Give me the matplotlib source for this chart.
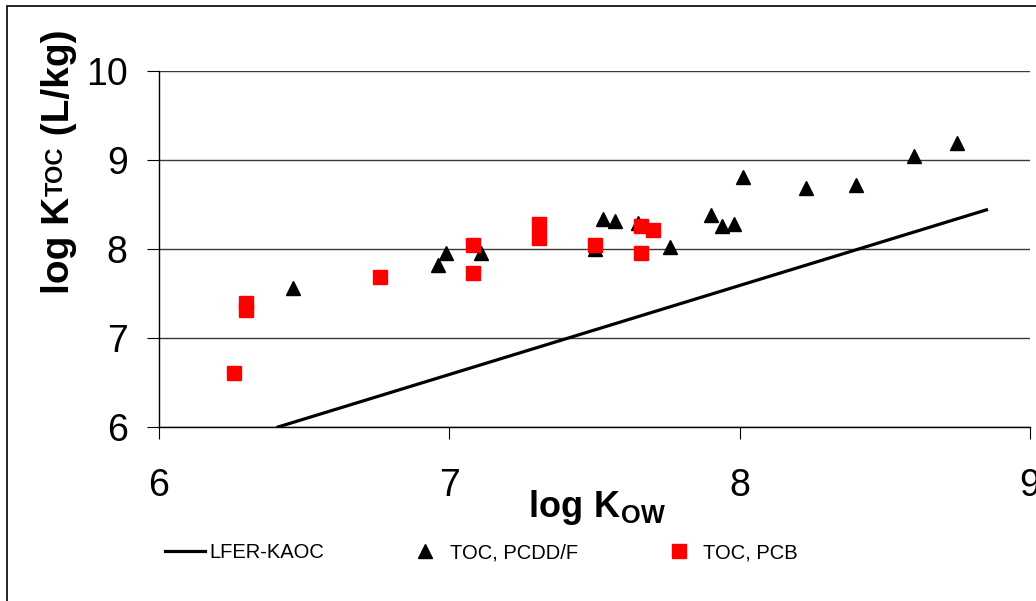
import matplotlib
matplotlib.use('Agg')
import matplotlib.pyplot as plt
from matplotlib.patches import Rectangle

plt.rcParams['font.family'] = ['Liberation Sans', 'DejaVu Sans']
plt.rcParams['mathtext.fontset'] = 'custom'
plt.rcParams['mathtext.rm'] = 'Liberation Sans'
plt.rcParams['mathtext.bf'] = 'Liberation Sans:bold'

# LFER prediction line
lfer_x = [6.41, 8.85]
lfer_y = [6.00, 8.44]

# measured TOC partitioning, PCDD/Fs
pcdd_x = [6.46, 6.96, 6.99, 7.11, 7.50, 7.53, 7.57, 7.65, 7.76, 7.90, 7.94, 7.98, 8.01, 8.23, 8.40, 8.60, 8.75]
pcdd_y = [7.56, 7.82, 7.95, 7.95, 8.00, 8.34, 8.31, 8.29, 8.02, 8.38, 8.26, 8.28, 8.81, 8.69, 8.72, 9.05, 9.19]

# measured TOC partitioning, PCBs
pcb_x = [6.26, 6.30, 6.30, 6.76, 7.08, 7.08, 7.31, 7.31, 7.50, 7.66, 7.70, 7.66]
pcb_y = [6.61, 7.39, 7.32, 7.68, 8.04, 7.73, 8.28, 8.12, 8.05, 8.26, 8.21, 7.96]

xticks = [6, 7, 8, 9]
yticks = [6, 7, 8, 9, 10]

W, H = 1036, 601
fig = plt.figure(figsize=(W / 100, H / 100), dpi=100)
ax = fig.add_axes([159 / W, 1 - 427 / H, (1030 - 159) / W, (427 - 71) / H])

ax.plot(lfer_x, lfer_y, color='black', lw=2.3, label='LFER-KAOC', zorder=3)
ax.plot(pcdd_x, pcdd_y, ls='none', marker='^', ms=10.5, color='black', label='TOC, PCDD/F', zorder=4)
ax.plot(pcb_x, pcb_y, ls='none', marker='s', ms=9.5, color='#ff0000', label='TOC, PCB', zorder=5)

ax.set_xlim(6, 9)
ax.set_ylim(6, 10)
ax.set_xticks(xticks)
ax.set_yticks(yticks)
ax.tick_params(axis='both', direction='out', length=8.6, width=0.8, labelsize=27, color='black')
ax.tick_params(axis='x', pad=21)
ax.tick_params(axis='y', pad=14)

ax.yaxis.grid(True, color='#3a3a3a', lw=1.0)
ax.set_axisbelow(True)
for s in ['top', 'right']:
    ax.spines[s].set_visible(False)
for s in ['left', 'bottom']:
    ax.spines[s].set_linewidth(1.0)
    ax.spines[s].set_zorder(2)

# x label, subscript through mathtext
fig.text(597 / W, 1 - 517 / H, r'$\mathbf{log\ K_{OW}}$', fontsize=26, ha='center', va='baseline')

# y label pieces: small "TOC" sits a little above the baseline
renderer = fig.canvas.get_renderer()
bx = 69
by = 294
t1 = fig.text(bx / W, 1 - by / H, 'log K', fontsize=28, fontweight='bold',
              rotation=90, rotation_mode='anchor', ha='left', va='baseline')
h1 = t1.get_window_extent(renderer).height
t2 = fig.text((bx - 6) / W, 1 - (by - h1 - 1) / H, 'TOC', fontsize=17, fontweight='bold',
              rotation=90, rotation_mode='anchor', ha='left', va='baseline')
h2 = t2.get_window_extent(renderer).height
fig.text(bx / W, 1 - (by - h1 - h2 - 1) / H, ' (L/kg)', fontsize=28, fontweight='bold',
         rotation=90, rotation_mode='anchor', ha='left', va='baseline')

fig.legend(loc='center left', bbox_to_anchor=(165 / W, 1 - 553 / H), ncol=3,
           frameon=False, fontsize=14.5, borderpad=0, borderaxespad=0,
           handlelength=2.0, handletextpad=0.22, columnspacing=4.0, numpoints=1)

# chart frame
fig.add_artist(Rectangle((7 / W, -0.1), 1.2, 1.1 - 6 / H, transform=fig.transFigure,
                         fill=False, edgecolor='black', lw=1.2))

fig.savefig('out.png', dpi=100)
